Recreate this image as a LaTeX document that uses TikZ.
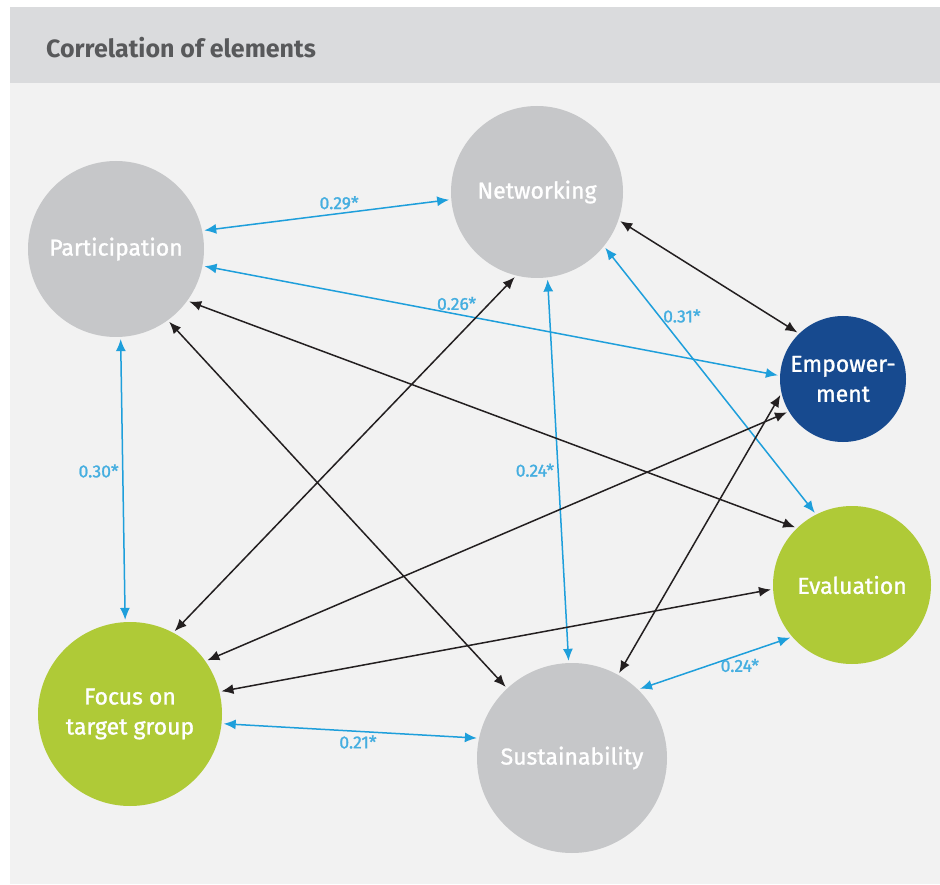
\documentclass[tikz,border=0pt]{standalone}
\usepackage{fontspec}
\setmainfont{Fira Sans}
\newfontfamily\elemfont[FakeBold=1.2]{Fira Sans}
\usetikzlibrary{arrows.meta}
\definecolor{bggray}{HTML}{F2F2F2}
\definecolor{headgray}{HTML}{DADBDD}
\definecolor{titlegray}{HTML}{58595B}
\definecolor{elemgray}{HTML}{C6C7C9}
\definecolor{empblue}{HTML}{174A8F}
\definecolor{evalgreen}{HTML}{AFCA37}
\definecolor{corrblue}{HTML}{1E9FDB}
\definecolor{valblue}{HTML}{45AEE0}
\definecolor{linkblack}{HTML}{231F20}
\newcommand{\lnk}[2]{\path (#1) edge[link] (#2); }
\newcommand{\crr}[4]{\path (#1) edge[corr] node[val,#3] {#4} (#2); }

\begin{document}
\begin{tikzpicture}[x=1pt,y=-1pt,>={Latex[length=12pt,width=10pt]},
  elem/.style={circle,inner sep=0pt,text=white,align=center,font=\elemfont\fontsize{23}{30}\selectfont},
  link/.style={<->,draw=linkblack,line width=1.5pt,shorten <=2pt,shorten >=2pt},
  corr/.style={<->,draw=corrblue,line width=1.5pt,shorten <=2pt,shorten >=2pt},
  val/.style={text=valblue,font=\elemfont\fontsize{17.5}{20}\selectfont}]
  \useasboundingbox (0,0) rectangle (940,885);
  \fill[bggray] (10,7) rectangle (940,884);
  \fill[headgray] (10,7) rectangle (940,83);
  \node[anchor=base west,inner sep=0pt,text=titlegray,font=\bfseries\fontsize{25}{30}\selectfont] (title) at (46,58) {Correlation of elements};
  % elements
  \node[elem,fill=elemgray,minimum size=176pt] (part) at (116,249) {Participation};
  \node[elem,fill=elemgray,minimum size=172pt] (netw) at (537,192) {Networking};
  \node[elem,fill=empblue,minimum size=126pt] (empow) at (843,379) {Empower-\\ment};
  \node[elem,fill=evalgreen,minimum size=158pt] (eval) at (852,585) {Evaluation};
  \node[elem,fill=evalgreen,minimum size=184pt] (focus) at (130,714) {Focus on\\target group};
  \node[elem,fill=elemgray,minimum size=190pt] (sust) at (572,758) {Sustainability};
  % significant correlations
  \crr{part.12}{netw.185}{pos=0.55,above}{0.29*}
  \crr{part.349}{empow.177}{pos=0.44,above}{0.26*}
  \crr{part.273}{focus.93}{pos=0.47,left}{0.30*}
  \crr{netw.277}{sust.92}{pos=0.5,left}{0.24*}
  \crr{netw.321}{eval.117}{pos=0.26,right}{0.31*}
  \crr{focus.354}{sust.168}{pos=0.53,below}{0.21*}
  \crr{sust.46}{eval.221}{pos=0.66,below}{0.24*}
  % other links
  \lnk{netw.341}{empow.134}
  \lnk{part.324}{eval.134}
  \lnk{part.306}{sust.133}
  \lnk{netw.256}{focus.62}
  \lnk{empow.211}{focus.35}
  \lnk{empow.193}{sust.61}
  \lnk{eval.183}{focus.14}
\end{tikzpicture}
\end{document}
